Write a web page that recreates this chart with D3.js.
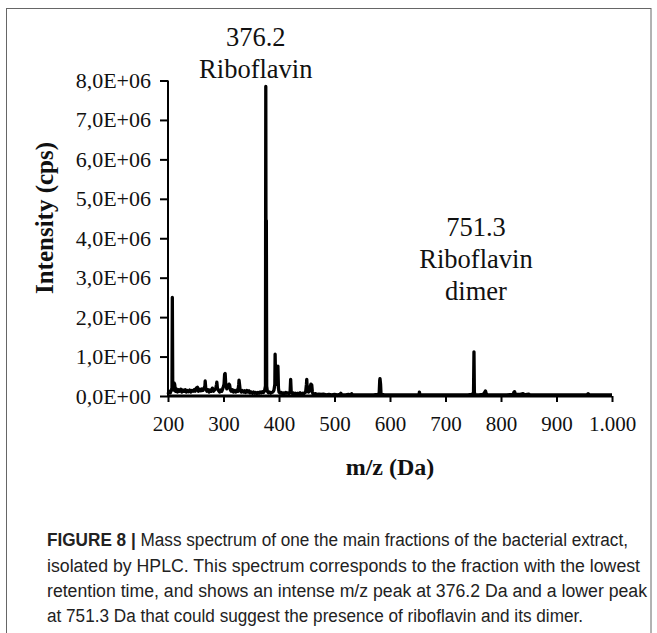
<!DOCTYPE html>
<html>
<head>
<meta charset="utf-8">
<script src="https://cdn.jsdelivr.net/npm/d3@7"></script>
<style>
  html, body { margin: 0; padding: 0; background: #fff; }
  svg { display: block; }
</style>
</head>
<body>
<svg id="chart" width="657" height="633"></svg>
<script>
// ---- data (m/z in Da, intensity in units of 1E6 cps) ----
const mz = [200,202,204,206,207.2,207.8,208.5,210,211,212,213.5,215,217,219,221,223,225,227,229,231,233,235,237,239,241,243,245,247,249,251,253,255,257,259,261,263,265,266.5,267,268,270,272,274,276,278,280,282,284,286,287.5,288,289,291,293,295,297,299,301,302,303,304,306,308,310,311,312.5,314,316,318,320,322,324,326,327.5,328,329,330,332,334,336,338,340,342,344,346,348,350,352,354,356,358,360,362,364,366,368,370,372,374,375.6,376.2,376.8,377.2,377.8,379,381,383,385,387,389,391,392.5,393,394,395.5,397,398,399,400,402,404,406,408,410,412,414,416,418,420,421,422,424,426,428,430,432,434,436,438,440,442,444,446,448,449.5,450,451,453,455,456.5,457.5,459,460,461,463,466,469,472,476,480,485,490,495,500,505,510,511.5,513,520,525,530,531,532,540,550,560,570,578,580.5,581.5,582,583,583.8,590,600,610,620,630,640,650,652.5,653,653.8,660,670,680,690,700,710,720,730,740,748,750.5,751.3,752,753,760,768,771,772,773.5,776,790,800,810,822,823.5,824.5,826,835,840,842,850,852,870,890,910,930,955,957,959,980,1000];
const intensity = [0.05,0.12,0.08,0.15,0.2,2.5,0.3,0.15,0.33,0.3,0.12,0.18,0.1,0.16,0.12,0.17,0.1,0.15,0.12,0.16,0.1,0.14,0.11,0.15,0.1,0.14,0.12,0.16,0.12,0.2,0.22,0.12,0.17,0.13,0.18,0.14,0.2,0.25,0.38,0.2,0.12,0.16,0.1,0.15,0.12,0.2,0.12,0.16,0.18,0.3,0.35,0.2,0.14,0.1,0.15,0.12,0.2,0.3,0.55,0.57,0.3,0.18,0.22,0.3,0.28,0.15,0.12,0.16,0.1,0.14,0.1,0.15,0.12,0.3,0.4,0.28,0.15,0.1,0.14,0.1,0.13,0.09,0.14,0.1,0.13,0.08,0.1,0.07,0.1,0.07,0.09,0.06,0.09,0.07,0.1,0.08,0.11,0.09,0.13,0.25,7.85,0.3,4.45,0.25,0.12,0.08,0.1,0.07,0.09,0.1,0.15,0.3,1.06,0.35,0.3,0.4,0.76,0.2,0.1,0.07,0.09,0.06,0.08,0.06,0.09,0.07,0.08,0.06,0.1,0.42,0.1,0.06,0.08,0.05,0.07,0.05,0.07,0.05,0.08,0.05,0.07,0.05,0.08,0.1,0.3,0.42,0.15,0.1,0.12,0.25,0.3,0.28,0.12,0.06,0.05,0.06,0.04,0.05,0.04,0.05,0.03,0.04,0.03,0.04,0.03,0.04,0.07,0.03,0.03,0.04,0.03,0.06,0.03,0.03,0.03,0.03,0.03,0.04,0.06,0.4,0.44,0.3,0.05,0.03,0.03,0.03,0.03,0.03,0.03,0.03,0.04,0.1,0.03,0.03,0.03,0.03,0.03,0.03,0.03,0.03,0.03,0.03,0.04,0.08,1.12,0.1,0.03,0.03,0.04,0.1,0.13,0.05,0.03,0.03,0.03,0.03,0.04,0.1,0.11,0.04,0.04,0.06,0.03,0.05,0.03,0.03,0.03,0.03,0.03,0.03,0.06,0.03,0.03,0.03];
const xTicks = [200,300,400,500,600,700,800,900,1000];
const xTickLabels = ["200","300","400","500","600","700","800","900","1.000"];
const yTicks = [0,1,2,3,4,5,6,7,8];
const yTickLabels = ["0,0E+00","1,0E+06","2,0E+06","3,0E+06","4,0E+06","5,0E+06","6,0E+06","7,0E+06","8,0E+06"];
const annotations = [
  {x: 376.2, lines: ["376.2", "Riboflavin"]},
  {x: 751.3, lines: ["751.3", "Riboflavin", "dimer"]}
];
const xTitle = "m/z (Da)";
const yTitle = "Intensity (cps)";
const captionBold = "FIGURE 8 |";
const captionLines = [
  " Mass spectrum of one the main fractions of the bacterial extract,",
  "isolated by HPLC. This spectrum corresponds to the fraction with the lowest",
  "retention time, and shows an intense m/z peak at 376.2 Da and a lower peak",
  "at 751.3 Da that could suggest the presence of riboflavin and its dimer."
];

// ---- layout ----
const svg = d3.select("#chart");
const serif = "'Liberation Serif', 'Times New Roman', serif";
const x = d3.scaleLinear().domain([200, 1000]).range([168, 612]);
const y = d3.scaleLinear().domain([0, 8]).range([396, 80.5]);

// frame
svg.append("rect").attr("x", 6.5).attr("y", 8.5).attr("width", 644.5).attr("height", 640)
  .attr("fill", "none").attr("stroke", "#666").attr("stroke-width", 1);

// y axis
const yAxis = d3.axisLeft(y).tickValues(yTicks).tickSize(8).tickPadding(9)
  .tickFormat((d, i) => yTickLabels[i]);
const gy = svg.append("g").attr("transform", `translate(${x(200)},0)`).call(yAxis);
gy.select(".domain").attr("stroke", "#000").attr("stroke-width", 2).attr("d", `M0,${y(0)}V${y(8)}`);
gy.selectAll(".tick line").attr("stroke", "#000").attr("stroke-width", 2);
gy.selectAll(".tick text").attr("font-family", serif).attr("font-size", 22).attr("fill", "#111");

// x axis
const xAxis = d3.axisBottom(x).tickValues(xTicks).tickSize(6).tickPadding(14)
  .tickFormat((d, i) => xTickLabels[i]);
const gx = svg.append("g").attr("transform", `translate(0,${y(0)})`).call(xAxis);
gx.select(".domain").attr("stroke", "#000").attr("stroke-width", 2.8).attr("d", `M${x(200)},0H${x(1000)}`);
gx.selectAll(".tick line").attr("stroke", "#000").attr("stroke-width", 2);
gx.selectAll(".tick text").attr("font-family", serif).attr("font-size", 21).attr("fill", "#111");

// spectrum
const pts = mz.map((m, i) => [m, intensity[i]]);
const line = d3.line().x(d => x(d[0])).y(d => y(d[1]));
svg.append("path").datum(pts).attr("d", line)
  .attr("fill", "none").attr("stroke", "#000").attr("stroke-width", 3.3)
  .attr("stroke-linejoin", "round");

// annotations
const annTop = {376.2: 46, 751.3: 236};
annotations.forEach(a => {
  const t = svg.append("text").attr("font-family", serif).attr("font-size", 26.5)
    .attr("text-anchor", "middle").attr("fill", "#111");
  a.lines.forEach((s, i) => {
    t.append("tspan").attr("x", x(a.x) - (a.x < 500 ? 10 : -2)).attr("y", annTop[a.x] + i * 32).text(s);
  });
});

// titles
svg.append("text").attr("font-family", serif).attr("font-weight", "bold").attr("font-size", 25)
  .attr("text-anchor", "middle").attr("transform", "translate(53,218) rotate(-90)")
  .attr("fill", "#111").text(yTitle);
svg.append("text").attr("font-family", serif).attr("font-weight", "bold").attr("font-size", 24)
  .attr("text-anchor", "middle").attr("x", 390).attr("y", 475)
  .attr("fill", "#111").text(xTitle);

// caption
const cap = svg.append("g").attr("font-family", "'Liberation Sans Narrow', 'Liberation Sans', Arial, sans-serif")
  .attr("font-size", 18).attr("fill", "#222");
const capY = [546, 572, 597, 622];
const capW = [581, 593, 600, 536];
captionLines.forEach((s, i) => {
  const t = cap.append("text").attr("x", 47).attr("y", capY[i])
    .attr("textLength", capW[i]).attr("lengthAdjust", "spacingAndGlyphs");
  if (i === 0) t.append("tspan").attr("font-weight", "bold").text(captionBold);
  t.append("tspan").text(s);
});
</script>
</body>
</html>
